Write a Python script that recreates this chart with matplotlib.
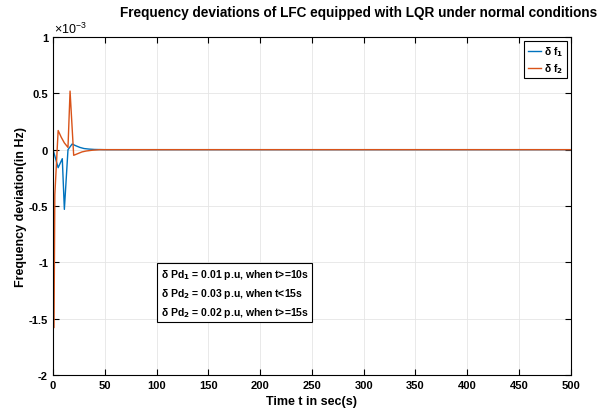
import matplotlib.pyplot as plt

plt.rcParams['font.family'] = ['Liberation Sans', 'DejaVu Sans']
plt.rcParams['font.weight'] = 'bold'
plt.rcParams['mathtext.default'] = 'regular'

# Data (frequency deviation in units of 1e-3 Hz)
t1 = [0, 1, 5, 9, 11, 14.5, 18.5, 22, 26, 30, 35, 40, 50, 500]
df1 = [0, -0.03, -0.16, -0.08, -0.53, 0.0, 0.05, 0.035, 0.02, 0.01, 0.005, 0.002, 0, 0]

t2 = [0, 1, 1.8, 5, 8, 11, 14.5, 16.5, 20, 24, 28, 32, 38, 45, 500]
df2 = [0, -1.58, -0.4, 0.17, 0.11, 0.06, 0.02, 0.52, -0.05, -0.035, -0.02, -0.012, -0.005, 0, 0]

xticks = list(range(0, 501, 50))
yticks = [-2, -1.5, -1, -0.5, 0, 0.5, 1]
ytick_labels = ['-2', '-1.5', '-1', '-0.5', '0', '0.5', '1']

fig = plt.figure(figsize=(6.04, 4.14), dpi=100)
ax = fig.add_axes([0.0877, 0.0918, 0.8573, 0.8164])

ax.plot(t1, df1, color='#0072BD', lw=1.0, label=r'$\delta$ f$_\mathbf{1}$')
ax.plot(t2, df2, color='#D95319', lw=1.0, label=r'$\delta$ f$_\mathbf{2}$')

ax.set_xlim(0, 500)
ax.set_ylim(-2, 1)
ax.set_xticks(xticks)
ax.set_yticks(yticks)
ax.set_yticklabels(ytick_labels)
ax.tick_params(direction='in', top=True, right=True, labelsize=8, length=4, width=0.8)
for lab in ax.get_xticklabels() + ax.get_yticklabels():
    lab.set_fontweight('bold')
ax.grid(True, color='#e5e5e5', lw=0.6)
for s in ax.spines.values():
    s.set_linewidth(0.8)

ax.text(0.002, 1.003, r'$\times$10$^{-3}$', transform=ax.transAxes, fontsize=9,
        ha='left', va='bottom', fontweight='normal')

ax.set_title('Frequency deviations of LFC equipped with LQR under normal conditions',
             fontsize=9.8, fontweight='bold', pad=15, x=0.59)
ax.set_xlabel('Time t in sec(s)', fontsize=9, fontweight='bold', labelpad=4)
ax.set_ylabel('Frequency deviation(in Hz)', fontsize=9, fontweight='bold', labelpad=1)

leg = ax.legend(loc='upper right', fontsize=7.5, handlelength=1.3, handletextpad=0.3,
                borderaxespad=0.4, borderpad=0.3, labelspacing=0.3,
                fancybox=False, edgecolor='black', framealpha=1)
leg.get_frame().set_linewidth(0.8)

note = (r'$\delta$ Pd$_\mathbf{1}$ = 0.01 p.u, when t>=10s' + '\n'
        r'$\delta$ Pd$_\mathbf{2}$ = 0.03 p.u, when t<15s' + '\n'
        r'$\delta$ Pd$_\mathbf{2}$ = 0.02 p.u, when t>=15s')
ax.text(104, -1.27, note, fontsize=7.5, fontweight='bold', ha='left', va='center',
        linespacing=1.5,
        bbox=dict(boxstyle='square,pad=0.35', fc='white', ec='black', lw=0.8))

fig.savefig('out.png', dpi=100)
